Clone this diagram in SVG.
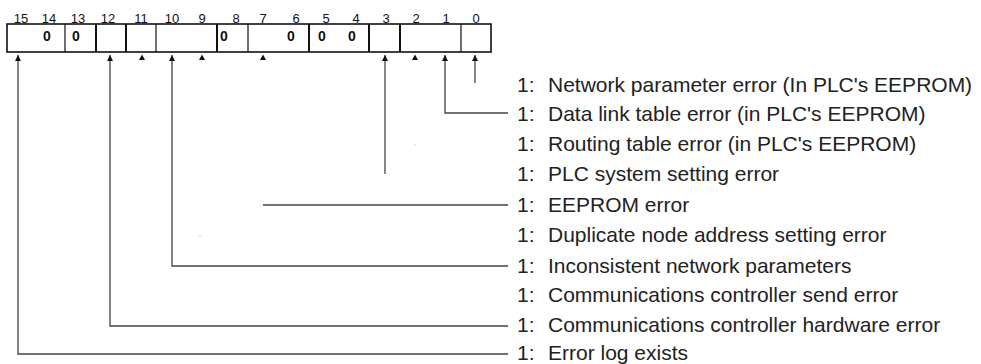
<svg xmlns="http://www.w3.org/2000/svg" width="981" height="364" viewBox="0 0 981 364">
<style>
.bit{font-family:"Liberation Sans",Arial,sans-serif;font-size:13px;fill:#111;text-anchor:middle}
.zero{font-family:"Liberation Sans",Arial,sans-serif;font-size:14px;font-weight:bold;fill:#111;text-anchor:middle}
.lbl{font-family:"Liberation Sans",Arial,sans-serif;font-size:21px;fill:#222}
.box{fill:#fff;stroke:#111;stroke-width:1.6}
.dv{stroke:#111;stroke-width:1.2}
.dvt{stroke:#111;stroke-width:2}
.cn{fill:none;stroke:#444;stroke-width:1.3}
.tri{fill:#111}
</style>
<defs>
<marker id="ah" viewBox="0 0 6 6" refX="6" refY="3" markerWidth="6" markerHeight="6" markerUnits="userSpaceOnUse" orient="auto">
<path d="M0,0 L6,3 L0,6 Z" fill="#111"/>
</marker>
</defs>
<g id="register">
<text class="bit" x="21" y="23">15</text>
<text class="bit" x="49" y="23">14</text>
<text class="bit" x="78" y="23">13</text>
<text class="bit" x="108" y="23">12</text>
<text class="bit" x="141" y="23">11</text>
<text class="bit" x="172" y="23">10</text>
<text class="bit" x="202" y="23">9</text>
<text class="bit" x="236" y="23">8</text>
<text class="bit" x="263" y="23">7</text>
<text class="bit" x="296" y="23">6</text>
<text class="bit" x="326" y="23">5</text>
<text class="bit" x="356" y="23">4</text>
<text class="bit" x="386" y="23">3</text>
<text class="bit" x="416" y="23">2</text>
<text class="bit" x="446" y="23">1</text>
<text class="bit" x="476" y="23">0</text>
<rect class="box" x="7" y="24" width="484" height="28"/>
<line class="dv" x1="65" y1="24" x2="65" y2="52"/>
<line class="dvt" x1="96" y1="24" x2="96" y2="52"/>
<line class="dvt" x1="126" y1="24" x2="126" y2="52"/>
<line class="dv" x1="156" y1="24" x2="156" y2="52"/>
<line class="dvt" x1="217" y1="24" x2="217" y2="52"/>
<line class="dv" x1="248" y1="24" x2="248" y2="52"/>
<line class="dvt" x1="309" y1="24" x2="309" y2="52"/>
<line class="dvt" x1="369" y1="24" x2="369" y2="52"/>
<line class="dvt" x1="400" y1="24" x2="400" y2="52"/>
<line class="dv" x1="461" y1="24" x2="461" y2="52"/>
<text class="zero" x="47" y="41">0</text>
<text class="zero" x="76" y="41">0</text>
<text class="zero" x="224" y="41">0</text>
<text class="zero" x="291" y="41">0</text>
<text class="zero" x="322" y="41">0</text>
<text class="zero" x="352" y="41">0</text>
<path class="tri" d="M139,60 L142,54.5 L145,60 Z"/>
<path class="tri" d="M199,60 L202,54.5 L205,60 Z"/>
<path class="tri" d="M260,60 L263,54.5 L266,60 Z"/>
<path class="tri" d="M412,60 L415,54.5 L418,60 Z"/>
<rect x="414.5" y="144.5" width="1" height="1" fill="#aaa"/>
<rect x="199.5" y="235.5" width="1" height="1" fill="#aaa"/>
</g>
<g id="connectors">
<path class="cn" d="M475,83 V55" stroke-width="2" marker-end="url(#ah)"/>
<path class="cn" d="M508,113 H445 V55" marker-end="url(#ah)"/>
<path class="cn" d="M385,174 V55" marker-end="url(#ah)"/>
<path class="cn" d="M508,205 H263"/>
<path class="cn" d="M508,266 H172 V55" marker-end="url(#ah)"/>
<path class="cn" d="M508,326 H110 V55" marker-end="url(#ah)"/>
<path class="cn" d="M508,354 H18 V55" marker-end="url(#ah)"/>
</g>
<g id="labels">
<text class="lbl" x="517" y="92">1:<tspan x="548">Network parameter error (In PLC's EEPROM)</tspan></text>
<text class="lbl" x="517" y="121">1:<tspan x="548">Data link table error (in PLC's EEPROM)</tspan></text>
<text class="lbl" x="517" y="151">1:<tspan x="548">Routing table error (in PLC's EEPROM)</tspan></text>
<text class="lbl" x="517" y="181">1:<tspan x="548">PLC system setting error</tspan></text>
<text class="lbl" x="517" y="212">1:<tspan x="548">EEPROM error</tspan></text>
<text class="lbl" x="517" y="242">1:<tspan x="548">Duplicate node address setting error</tspan></text>
<text class="lbl" x="517" y="273">1:<tspan x="548">Inconsistent network parameters</tspan></text>
<text class="lbl" x="517" y="302">1:<tspan x="548">Communications controller send error</tspan></text>
<text class="lbl" x="517" y="332">1:<tspan x="548">Communications controller hardware error</tspan></text>
<text class="lbl" x="517" y="360">1:<tspan x="548">Error log exists</tspan></text>
</g>
</svg>
